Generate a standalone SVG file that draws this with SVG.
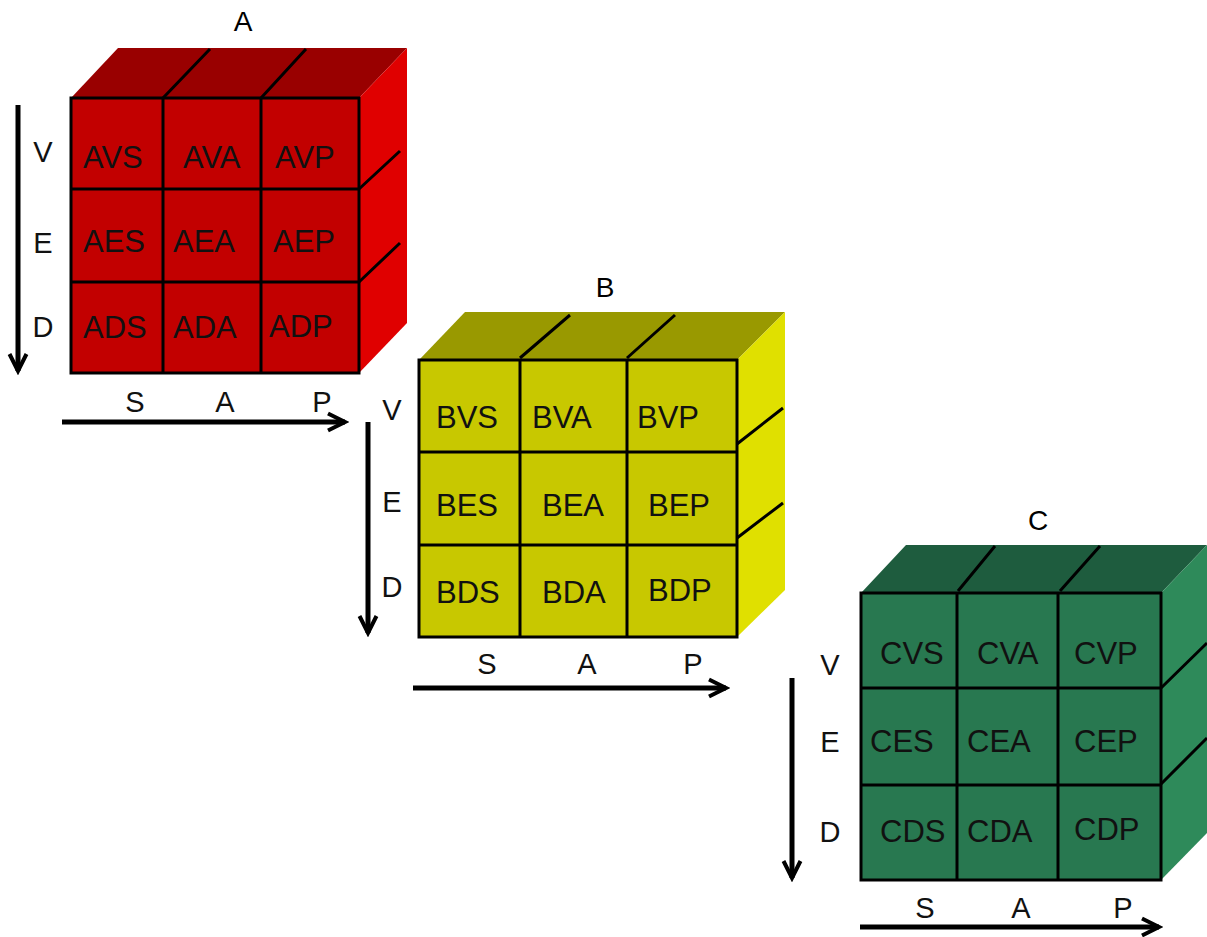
<svg xmlns="http://www.w3.org/2000/svg" width="1207" height="937" viewBox="0 0 1207 937">
  <defs>
    <marker id="head" markerUnits="userSpaceOnUse" markerWidth="26" markerHeight="26" viewBox="-22 -13 26 26" refX="0" refY="0" orient="auto">
      <path d="M-17,-8.5 L0,0 L-17,8.5" fill="none" stroke="#000" stroke-width="4" stroke-linejoin="miter"/>
    </marker>
  </defs>
  <style>
    text { font-family: "Liberation Sans", Arial, sans-serif; fill: #000; }
    .cell { font-size: 31px; fill: #111; }
    .axis { font-size: 29px; fill: #111; }
    .title { font-size: 28px; text-anchor: middle; }
    .mid { text-anchor: middle; }
    .edge { fill: none; stroke: #000; stroke-width: 3; }
    .seam { fill: none; stroke: #000; stroke-width: 3; }
    .arrow { fill: none; stroke: #000; stroke-width: 5; marker-end: url(#head); }
    .redF { fill: #C20000; } .redT { fill: #990000; } .redR { fill: #E00000; }
    .yelF { fill: #C8C800; } .yelT { fill: #999900; } .yelR { fill: #E0E000; }
    .grnF { fill: #287850; } .grnT { fill: #1E5C3E; } .grnR { fill: #2E8A5A; }
  </style>
  <rect width="1207" height="937" fill="#fff"/>

  <!-- Cube A -->
  <g id="cube-a">
    <text class="title" x="243" y="31">A</text>
    <polygon class="redT" points="71,98 118,48 407,48 359,98"/>
    <polygon class="redR" points="359,98 407,48 407,323 359,373"/>
    <path class="seam" d="M163,98 L210,49 M261,98 L306,49 M359,189 L400,151 M359,282 L400,243"/>
    <rect class="redF" x="71" y="98" width="288" height="275"/>
    <path class="edge" d="M71,98 H359 V373 H71 Z M163,98 V373 M261,98 V373 M71,189 H359 M71,282 H359"/>
    <text class="cell" x="83" y="168">AVS</text>
    <text class="cell" x="183" y="168">AVA</text>
    <text class="cell" x="275" y="168">AVP</text>
    <text class="cell" x="83" y="252">AES</text>
    <text class="cell" x="173" y="252">AEA</text>
    <text class="cell" x="273" y="252">AEP</text>
    <text class="cell" x="83" y="338">ADS</text>
    <text class="cell" x="173" y="338">ADA</text>
    <text class="cell" x="269" y="337">ADP</text>
    <text class="axis mid" x="43" y="162">V</text>
    <text class="axis mid" x="43" y="253">E</text>
    <text class="axis mid" x="43" y="337">D</text>
    <text class="axis mid" x="135" y="412">S</text>
    <text class="axis mid" x="225" y="412">A</text>
    <text class="axis mid" x="322" y="412">P</text>
  </g>

  <!-- Cube B -->
  <g id="cube-b">
    <text class="title" x="605" y="297">B</text>
    <polygon class="yelT" points="419,360 465,312 785,312 737,360"/>
    <polygon class="yelR" points="737,360 785,312 785,590 737,637"/>
    <path class="seam" d="M520,358 L570,315 M627,358 L675,315 M737,444 L783,408 M737,538 L783,503"/>
    <rect class="yelF" x="419" y="360" width="318" height="277"/>
    <path class="edge" d="M419,360 H737 V637 H419 Z M520,360 V637 M627,360 V637 M419,452 H737 M419,545 H737"/>
    <text class="cell" x="436" y="428">BVS</text>
    <text class="cell" x="532" y="428">BVA</text>
    <text class="cell" x="637" y="428">BVP</text>
    <text class="cell" x="436" y="516">BES</text>
    <text class="cell" x="542" y="516">BEA</text>
    <text class="cell" x="648" y="516">BEP</text>
    <text class="cell" x="436" y="603">BDS</text>
    <text class="cell" x="542" y="603">BDA</text>
    <text class="cell" x="648" y="601">BDP</text>
    <text class="axis mid" x="392" y="420">V</text>
    <text class="axis mid" x="392" y="512">E</text>
    <text class="axis mid" x="392" y="597">D</text>
    <text class="axis mid" x="487" y="674">S</text>
    <text class="axis mid" x="587" y="674">A</text>
    <text class="axis mid" x="693" y="674">P</text>
  </g>

  <!-- Cube C -->
  <g id="cube-c">
    <text class="title" x="1038" y="530">C</text>
    <polygon class="grnT" points="861,593 906,545 1207,545 1161,593"/>
    <polygon class="grnR" points="1161,593 1207,545 1207,833 1161,880"/>
    <path class="seam" d="M958,591 L995,546 M1060,591 L1100,546 M1161,688 L1207,643 M1161,784 L1207,738"/>
    <rect class="grnF" x="861" y="593" width="300" height="287"/>
    <path class="edge" d="M861,593 H1161 V880 H861 Z M957,593 V880 M1058,593 V880 M861,688 H1161 M861,785 H1161"/>
    <text class="cell" x="880" y="664">CVS</text>
    <text class="cell" x="977" y="664">CVA</text>
    <text class="cell" x="1074" y="664">CVP</text>
    <text class="cell" x="870" y="752">CES</text>
    <text class="cell" x="967" y="752">CEA</text>
    <text class="cell" x="1074" y="752">CEP</text>
    <text class="cell" x="880" y="842">CDS</text>
    <text class="cell" x="967" y="842">CDA</text>
    <text class="cell" x="1074" y="840">CDP</text>
    <text class="axis mid" x="830" y="675">V</text>
    <text class="axis mid" x="830" y="752">E</text>
    <text class="axis mid" x="830" y="842">D</text>
    <text class="axis mid" x="925" y="918">S</text>
    <text class="axis mid" x="1021" y="918">A</text>
    <text class="axis mid" x="1123" y="918">P</text>
  </g>

  <!-- Axis arrows -->
  <g id="connectors">
    <line class="arrow" x1="18" y1="105" x2="18" y2="371"/>
    <line class="arrow" x1="62" y1="422" x2="345" y2="422"/>
    <line class="arrow" x1="368" y1="422" x2="368" y2="633"/>
    <line class="arrow" x1="413" y1="688" x2="726" y2="688"/>
    <line class="arrow" x1="792" y1="678" x2="792" y2="878"/>
    <line class="arrow" x1="860" y1="927" x2="1159" y2="927"/>
  </g>
</svg>
